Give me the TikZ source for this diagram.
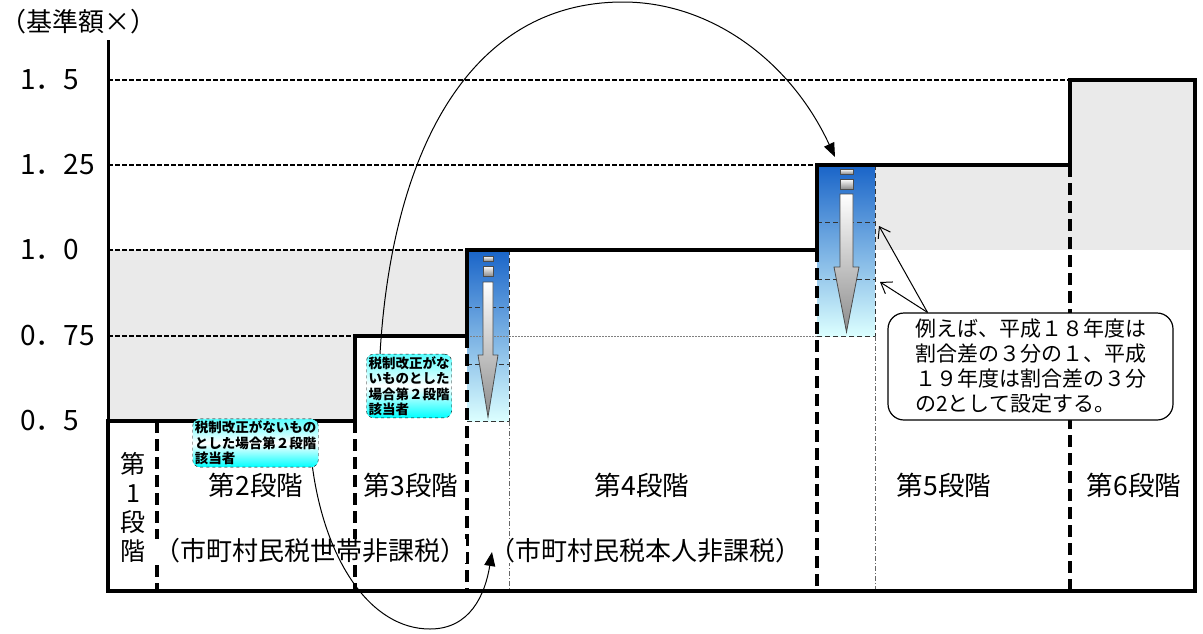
\documentclass[tikz,border=0pt]{standalone}
\usepackage{fontspec}
\setmainfont{Noto Sans CJK JP}
\usetikzlibrary{arrows.meta}
\definecolor{barblue}{RGB}{25,100,200}
\definecolor{barcyan}{RGB}{220,255,255}
\definecolor{hatch}{RGB}{234,234,234}
\tikzstyle{stepline} = [line width=4.5pt, line join=miter]
\tikzstyle{divider} = [line width=3.5pt, dash pattern=on 12pt off 6pt]
\tikzstyle{gridline} = [line width=1.3pt, dash pattern=on 5pt off 2pt]
\tikzstyle{thirdline} = [line width=1pt, dash pattern=on 5pt off 3pt, black!80]
\tikzstyle{dropline} = [line width=0.8pt, dash pattern=on 5pt off 2pt on 1pt off 2pt, black!60]
\tikzstyle{stage} = [font=\fontsize{26.5}{30}\selectfont, inner sep=0pt]
\tikzstyle{taxnote} = [stage, fill=white]
\tikzstyle{level} = [font=\fontsize{28}{32}\selectfont, anchor=west, inner sep=0pt]
\tikzstyle{casebox} = [draw, dashed, rounded corners=7pt,
top color=cyan!65, bottom color=cyan, middle color=white,
align=left, font=\fontsize{13.5}{15.5}\selectfont\bfseries, inner sep=2pt]
\tikzstyle{notebox} = [draw, line width=1.2pt, rounded corners=16pt,
fill=white, align=left, font=\fontsize{21}{25}\selectfont,
minimum width=285pt, minimum height=107pt]
\tikzstyle{bararrow} = [draw=black!70, line width=0.8pt, top color=white, bottom color=black!45]
\tikzstyle{arcarrow} = [line width=1pt, -{Triangle[length=14pt,width=11pt]}]
\tikzstyle{pointer} = [line width=1pt, -{Straight Barb[length=10pt,width=14pt]}]

\begin{document}
\begin{tikzpicture}[x=1pt, y=-1pt]
\useasboundingbox (0,0) rectangle (1203,633);

% shaded areas
\fill[hatch] (108,250) -- (467,250) -- (467,336) -- (355,336) -- (355,421) -- (108,421) -- cycle;
\fill[hatch] (875,165) rectangle (1070,250);
\fill[hatch] (1070,80) rectangle (1195,250);

% gradient columns
\shade[top color=barblue, bottom color=barcyan] (467,250) rectangle (509,421);
\shade[top color=barblue, bottom color=barcyan] (817,165) rectangle (875,336);

% level lines
\draw[gridline] (108,80) -- (1070,80);
\draw[gridline] (108,165) -- (817,165);
\draw[gridline] (108,250) -- (467,250);
\draw[gridline] (108,336) -- (355,336);
\draw[line width=0.8pt, dash pattern=on 2pt off 1pt, black!50] (467,336) -- (817,336);
\draw[thirdline] (467,307) -- (509,307);
\draw[thirdline] (467,364) -- (509,364);
\draw[thirdline] (817,222) -- (875,222);
\draw[thirdline] (817,279) -- (875,279);
\draw[thirdline] (509,250) -- (509,421) -- (467,421);
\draw[thirdline] (875,165) -- (875,336) -- (817,336);
\draw[dropline] (509,421) -- (509,591);
\draw[dropline] (875,336) -- (875,591);

% arrows in the columns
\shadedraw[bararrow] (483,256) rectangle (493,261);
\shadedraw[bararrow] (483,266) rectangle (493,276);
\shadedraw[bararrow] (483,282) -- (493,282) -- (493,355) -- (498,355) -- (488,417) -- (478,355) -- (483,355) -- cycle;
\shadedraw[bararrow] (840,169) rectangle (853,174);
\shadedraw[bararrow] (840,179) rectangle (853,189);
\shadedraw[bararrow] (840,194) -- (853,194) -- (853,267) -- (859,267) -- (846.5,332) -- (834,267) -- (840,267) -- cycle;

% stage borders
\draw[divider] (157,421) -- (157,591);
\draw[divider] (355,421) -- (355,591);
\draw[divider] (467,336) -- (467,591);
\draw[divider] (817,250) -- (817,591);
\draw[divider] (1070,165) -- (1070,591);
\draw[line width=3pt] (108,40) -- (108,421);
\draw[stepline] (108,421) -- (355,421) -- (355,336) -- (467,336) -- (467,250) -- (817,250) -- (817,165)
  -- (1070,165) -- (1070,80) -- (1195,80) -- (1195,591) -- (108,591) -- cycle;

% axis labels
\node (unit) [font=\fontsize{26}{30}\selectfont, anchor=west, inner sep=0pt] at (0,22) {（基準額×）};
\node[level] (l150) at (20,80) {1．5};
\node[level] (l125) at (20,165) {1．25};
\node[level] (l100) at (20,250) {1．0};
\node[level] (l075) at (20,336) {0．75};
\node[level] (l050) at (20,421) {0．5};

% stage names
\node[stage, align=center, font=\fontsize{25}{29}\selectfont] (s1) at (133,507) {第\\1\\段\\階};
\node[stage] (s2) at (256,485) {第2段階};
\node[stage] (s3) at (411,485) {第3段階};
\node[stage] (s4) at (642,485) {第4段階};
\node[stage] (s5) at (944,485) {第5段階};
\node[stage] (s6) at (1134,485) {第6段階};
\node[taxnote, font=\fontsize{26}{30}\selectfont] (household) at (310,551) {（市町村民税世帯非課税）};
\node[taxnote, font=\fontsize{26}{30}\selectfont] (person) at (645,551) {（市町村民税本人非課税）};

% callouts
\node[casebox] (caseA) at (409,386) {税制改正がな\\いものとした\\場合第２段階\\該当者};
\node[casebox] (caseB) at (255.5,443) {税制改正がないもの\\とした場合第２段階\\該当者};
\node[notebox] (note) at (1030.5,366.5) {例えば、平成１８年度は\\割合差の３分の１、平成\\１９年度は割合差の３分\\の2として設定する。};

\coordinate (toFive) at (835,157);
\coordinate (toFour) at (492,552);
\coordinate (tipA) at (879,226);
\coordinate (tipB) at (880,282);

\draw[arcarrow] ([xshift=-29]caseA.north) .. controls (392,150) and (470,2) .. (623,2)
  .. controls (710,2) and (790,60) .. (toFive);
\draw[arcarrow] ([xshift=57]caseB.south) .. controls (325,560) and (370,629) .. (430,629)
  .. controls (470,629) and (485,595) .. (toFour);
\draw[pointer] ([xshift=-103]note.north) -- (tipA);
\draw[pointer] ([xshift=-103]note.north) -- (tipB);
\end{tikzpicture}
\end{document}
